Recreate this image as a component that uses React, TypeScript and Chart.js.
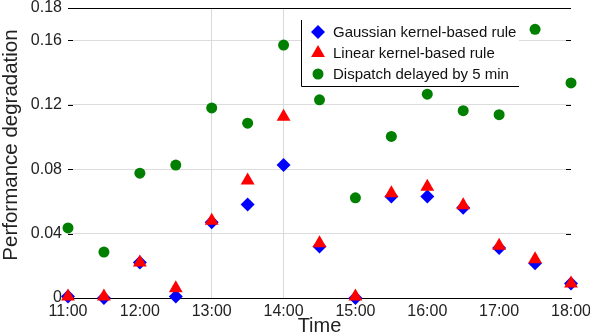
import React, { useEffect, useRef } from 'react';
import { Chart, registerables } from 'chart.js';

Chart.register(...registerables);

// ---- data ----
const hours = [11, 11.5, 12, 12.5, 13, 13.5, 14, 14.5, 15, 15.5, 16, 16.5, 17, 17.5, 18];
const gaussian = [0.001, 0, 0.022, 0.001, 0.047, 0.058, 0.0825, 0.032, 0, 0.063, 0.063, 0.056, 0.031, 0.0215, 0.009];
const linear = [0.001, 0.001, 0.022, 0.006, 0.048, 0.073, 0.1125, 0.034, 0.001, 0.065, 0.069, 0.0575, 0.0325, 0.024, 0.009];
const delayed = [0.0435, 0.0285, 0.0775, 0.0825, 0.118, 0.1085, 0.157, 0.123, 0.0622, 0.1003, 0.1265, 0.1163, 0.1138, 0.1668, 0.1335];

const xTicks = [11, 12, 13, 14, 15, 16, 17, 18];
const yTicks = [0, 0.04, 0.08, 0.12, 0.16, 0.18];
const seriesLabels = ['Gaussian kernel-based rule', 'Linear kernel-based rule', 'Dispatch delayed by 5 min'];
const xTitle = 'Time';
const yTitle = 'Performance degradation';

const FONT = '"Liberation Sans", Arial, Helvetica, sans-serif';
const TEXT = '#222';

function drawMarker(ctx: CanvasRenderingContext2D, style: string, x: number, y: number, r: number, color: string) {
  ctx.beginPath();
  ctx.fillStyle = color;
  if (style === 'rectRot') {
    ctx.moveTo(x, y - r);
    ctx.lineTo(x + r, y);
    ctx.lineTo(x, y + r);
    ctx.lineTo(x - r, y);
    ctx.closePath();
  } else if (style === 'triangle') {
    const a = (2 * Math.PI) / 3;
    for (let i = 0; i < 3; i++) {
      const px = x + Math.sin(a * i) * r;
      const py = y - Math.cos(a * i) * r;
      if (i === 0) ctx.moveTo(px, py);
      else ctx.lineTo(px, py);
    }
    ctx.closePath();
  } else {
    ctx.arc(x, y, r, 0, Math.PI * 2);
  }
  ctx.fill();
}

const boxLegend = {
  id: 'boxLegend',
  afterDraw(chart: any) {
    const { ctx, chartArea } = chart;
    const x0 = chartArea.left + 233;
    const y0 = chartArea.top + 12;
    const x1 = chartArea.left + 451;
    const y1 = chartArea.top + 78;
    ctx.save();
    ctx.fillStyle = '#fff';
    ctx.fillRect(x0, y0, x1 - x0, y1 - y0);
    ctx.strokeStyle = '#000';
    ctx.lineWidth = 1;
    ctx.beginPath();
    ctx.moveTo(x0 + 0.5, y0);
    ctx.lineTo(x0 + 0.5, y1 + 0.5);
    ctx.lineTo(x1, y1 + 0.5);
    ctx.stroke();
    ctx.font = `15px ${FONT}`;
    ctx.textBaseline = 'middle';
    ctx.textAlign = 'left';
    chart.data.datasets.forEach((ds: any, i: number) => {
      const cy = y0 + 12 + i * 21;
      drawMarker(ctx, ds.pointStyle, x0 + 17, cy, ds.legendRadius, ds.backgroundColor);
      ctx.fillStyle = '#111';
      ctx.fillText(ds.label, x0 + 32, cy + 1);
    });
    ctx.restore();
  },
};

const innerTicks = {
  id: 'innerTicks',
  afterDraw(chart: any) {
    const { ctx, chartArea, scales } = chart;
    const y = scales.y;
    ctx.save();
    ctx.strokeStyle = '#000';
    ctx.lineWidth = 1;
    y.ticks.forEach((t: any) => {
      if (t.value === 0 || t.value === 0.18) return;
      const py = Math.round(y.getPixelForValue(t.value)) + 0.5;
      ctx.beginPath();
      ctx.moveTo(chartArea.left, py);
      ctx.lineTo(chartArea.left + 5, py);
      ctx.moveTo(chartArea.right - 5, py);
      ctx.lineTo(chartArea.right, py);
      ctx.stroke();
    });
    ctx.restore();
  },
};

const yTitlePlugin = {
  id: 'yTitlePlugin',
  afterDraw(chart: any) {
    const { ctx, chartArea } = chart;
    ctx.save();
    ctx.translate(11, (chartArea.top + chartArea.bottom) / 2 - 8);
    ctx.rotate(-Math.PI / 2);
    ctx.font = `20.5px ${FONT}`;
    ctx.fillStyle = TEXT;
    ctx.textAlign = 'center';
    ctx.textBaseline = 'middle';
    ctx.fillText(yTitle, 0, 0);
    ctx.restore();
  },
};

export default function App() {
  const ref = useRef<HTMLCanvasElement | null>(null);

  useEffect(() => {
    document.body.style.margin = '0';
    const canvas = ref.current;
    if (!canvas) return;
    const toPts = (vals: number[]) => hours.map((h, i) => ({ x: h, y: vals[i] }));
    const chart = new Chart(canvas, {
      type: 'scatter',
      data: {
        datasets: [
          {
            label: seriesLabels[0],
            data: toPts(gaussian),
            backgroundColor: '#0000ff',
            borderColor: '#0000ff',
            borderWidth: 0,
            pointStyle: 'rectRot',
            pointRadius: 7,
            legendRadius: 7,
            order: 1,
            clip: false,
          } as any,
          {
            label: seriesLabels[1],
            data: toPts(linear),
            backgroundColor: '#ff0000',
            borderColor: '#ff0000',
            borderWidth: 0,
            pointStyle: 'triangle',
            pointRadius: 8,
            legendRadius: 8,
            order: 0,
            clip: false,
          } as any,
          {
            label: seriesLabels[2],
            data: toPts(delayed),
            backgroundColor: '#007f00',
            borderColor: '#007f00',
            borderWidth: 0,
            pointStyle: 'circle',
            pointRadius: 5.5,
            legendRadius: 5.5,
            order: 2,
            clip: false,
          } as any,
        ],
      },
      options: {
        animation: false,
        responsive: false,
        layout: { padding: { top: 6, right: 19, left: 0, bottom: 0 } },
        plugins: { legend: { display: false }, tooltip: { enabled: false } },
        scales: {
          x: {
            type: 'linear',
            min: 11,
            max: 18,
            afterBuildTicks: (s: any) => {
              s.ticks = xTicks.map((v) => ({ value: v }));
            },
            afterFit: (s: any) => {
              s.height = 36;
              s.paddingLeft = 0;
              s.paddingRight = 0;
            },
            ticks: {
              callback: (v: any) => `${v}:00`,
              font: { family: FONT, size: 16 },
              color: TEXT,
              padding: 4,
              maxRotation: 0,
              autoSkip: false,
            },
            grid: {
              drawTicks: false,
              color: (c: any) =>
                c.tick && (c.tick.value === 13 || c.tick.value === 14) ? '#d9d9d9' : 'rgba(0,0,0,0)',
            },
            border: { display: true, color: '#000', width: 1 },
            title: {
              display: true,
              text: xTitle,
              font: { family: FONT, size: 20, lineHeight: 0.8 },
              color: TEXT,
              padding: 0,
            },
          },
          y: {
            type: 'linear',
            min: 0,
            max: 0.18,
            afterBuildTicks: (s: any) => {
              s.ticks = yTicks.map((v) => ({ value: v }));
            },
            afterFit: (s: any) => {
              s.width = 68;
              s.paddingTop = 0;
              s.paddingBottom = 0;
            },
            ticks: {
              callback: (v: any) => String(v),
              font: { family: FONT, size: 16 },
              color: TEXT,
              padding: 6,
            },
            grid: {
              drawTicks: false,
              color: (c: any) => {
                const v = c.tick ? c.tick.value : null;
                if (v === 0.18) return '#000';
                if (v === 0) return 'rgba(0,0,0,0)';
                return '#dcdcdc';
              },
            },
            border: { display: false },
            title: { display: false },
          },
        },
      } as any,
      plugins: [innerTicks, boxLegend, yTitlePlugin],
    });
    return () => chart.destroy();
  }, []);

  return (
    <div style={{ position: 'absolute', left: 0, top: 0, width: 590, height: 334 }}>
      <canvas ref={ref} width={590} height={334} style={{ width: 590, height: 334 }} />
    </div>
  );
}
